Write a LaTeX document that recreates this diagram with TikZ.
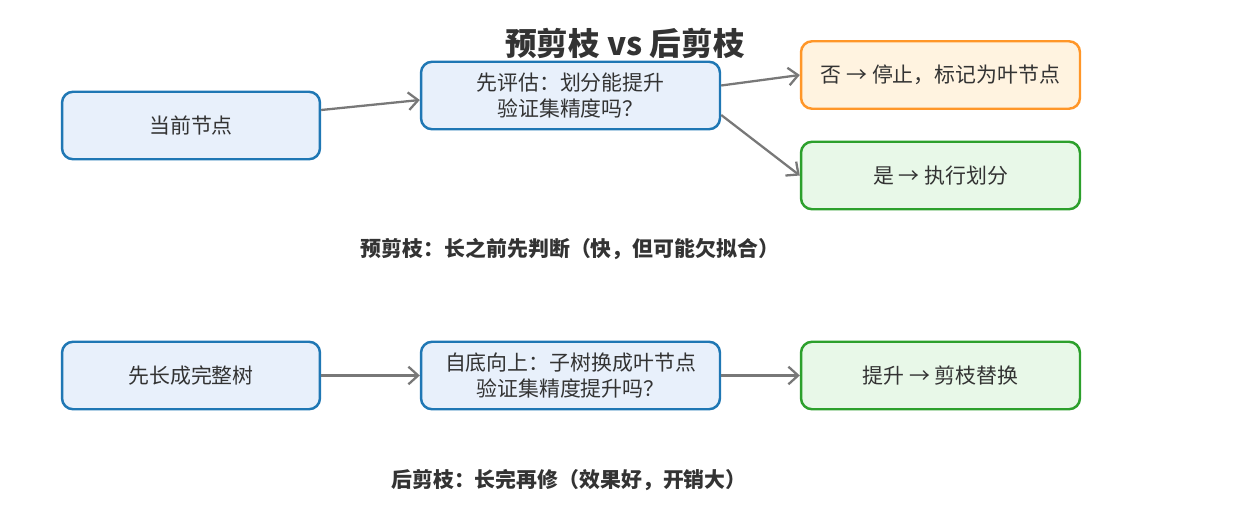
\documentclass[tikz,border=0pt]{standalone}
\usepackage{fontspec}
\setmainfont{Noto Sans CJK SC}
\usetikzlibrary{arrows.meta}
\definecolor{bluedge}{RGB}{31,119,180}
\definecolor{bluefill}{RGB}{232,240,251}
\definecolor{orangedge}{RGB}{255,150,40}
\definecolor{orangefill}{RGB}{255,243,224}
\definecolor{greenedge}{RGB}{44,160,44}
\definecolor{greenfill}{RGB}{232,248,232}
\definecolor{arrowgray}{RGB}{120,120,120}
\definecolor{txt}{RGB}{51,51,51}

\begin{document}
\begin{tikzpicture}[x=0.02cm, y=-0.02cm,
    box/.style={draw, rounded corners=0.22cm, line width=1.4pt, align=center,
        inner sep=0pt, minimum height=1.35cm, text=txt, font=\fontsize{11.9}{14.5}\selectfont},
    bluebox/.style={box, draw=bluedge, fill=bluefill},
    orangebox/.style={box, draw=orangedge, fill=orangefill},
    greenbox/.style={box, draw=greenedge, fill=greenfill},
    arr/.style={draw=arrowgray, line width=1.3pt, -{Straight Barb[length=5.5pt,width=10pt]}},
    note/.style={text=txt, font=\bfseries\fontsize{11.9}{14}\selectfont}]
\useasboundingbox (0,0) rectangle (1250,520);
\node[text=txt, font=\bfseries\fontsize{18}{20}\selectfont] (title) at (625,43) {预剪枝 vs 后剪枝};

\node[bluebox, minimum width=5.16cm] (cur) at (191,125.5) {当前节点};
\node[bluebox, minimum width=5.98cm] (eval) at (570.5,95.5) {先评估：划分能提升\\验证集精度吗？};
\node[orangebox, minimum width=5.58cm] (no) at (940.5,75) {否 → 停止，标记为叶节点};
\node[greenbox, minimum width=5.58cm] (yes) at (940.5,175.5) {是 → 执行划分};
\node[note] (pre) at (570,249) {预剪枝：长之前先判断（快，但可能欠拟合）};

\node[bluebox, minimum width=5.16cm] (grow) at (191,375.5) {先长成完整树};
\node[bluebox, minimum width=5.98cm] (up) at (570.5,375.5) {自底向上：子树换成叶节点\\验证集精度提升吗？};
\node[greenbox, minimum width=5.58cm] (cut) at (940.5,375.5) {提升 → 剪枝替换};
\node[note] (post) at (569,480) {后剪枝：长完再修（效果好，开销大）};

\draw[arr] ([yshift=0.31cm]cur.east) -- ([yshift=-0.09cm]eval.west);
\draw[arr] ([yshift=0.2cm]eval.east) -- (no.west);
\draw[arr] ([yshift=-0.39cm]eval.east) -- (yes.west);
\draw[arr] (grow) -- (up);
\draw[arr] (up) -- (cut);
\end{tikzpicture}
\end{document}
